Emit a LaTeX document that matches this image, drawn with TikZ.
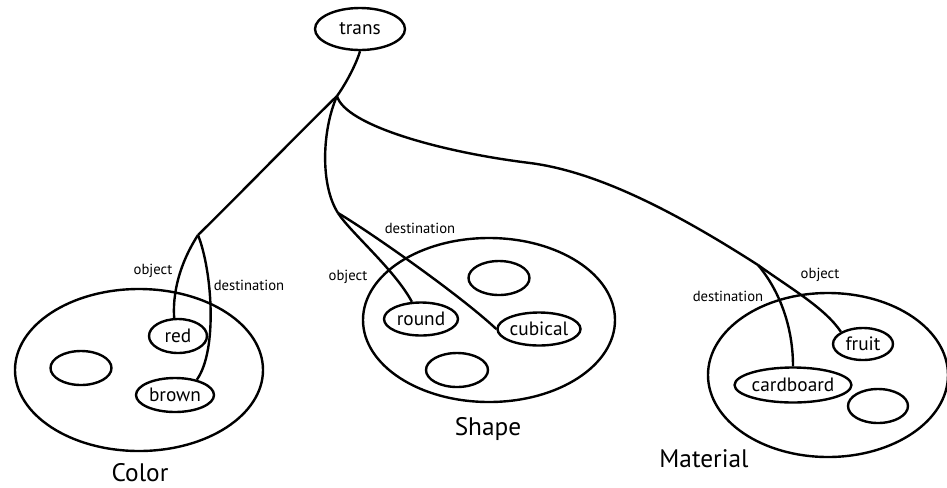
\documentclass[tikz,border=0pt]{standalone}
\usepackage{fontspec}
\setmainfont{PT Sans}
\usetikzlibrary{shapes.geometric}

\begin{document}
\begin{tikzpicture}[x=0.75pt,y=0.75pt,yscale=-1,xscale=1,
  line width=1.8pt,
  field/.style={draw, ellipse, inner sep=0pt},
  item/.style={draw, ellipse, inner sep=0pt, font=\fontsize{14.5}{16}\selectfont},
  rel/.style={inner sep=0pt, font=\fontsize{11}{12}\selectfont},
  title/.style={inner sep=0pt, font=\fontsize{19}{21}\selectfont}]
\useasboundingbox (0,0) rectangle (947,487);
% fields
\node [field, minimum width=186pt, minimum height=121.5pt] (color) at (139,370) {};
\node [field, minimum width=189pt, minimum height=123pt] (shape) at (489,320) {};
\node [field, minimum width=180pt, minimum height=123pt] (material) at (828,375) {};
\node [title] (colorlbl) at (140,473) {Color};
\node [title] (shapelbl) at (488,429) {Shape};
\node [title] (materiallbl) at (704,459) {Material};
% concepts
\node [item, minimum width=67.5pt, minimum height=31.5pt] (trans) at (360,29) {trans};
\node [item, minimum width=43.5pt, minimum height=25.5pt] (red) at (178,336) {red};
\node [item, minimum width=58.5pt, minimum height=25.5pt] (brown) at (175,395) {brown};
\node [item, minimum width=45.75pt, minimum height=25.5pt] (colorx) at (81,368) {};
\node [item, minimum width=55.5pt, minimum height=24.75pt] (round) at (421,319) {round};
\node [item, minimum width=55.5pt, minimum height=24.75pt] (cubical) at (539,329) {cubical};
\node [item, minimum width=45.75pt, minimum height=25.5pt] (shapex) at (499,278) {};
\node [item, minimum width=46.5pt, minimum height=25.5pt] (shapey) at (457,370) {};
\node [item, minimum width=45pt, minimum height=24pt] (fruit) at (863,344) {fruit};
\node [item, minimum width=83.25pt, minimum height=26.25pt] (cardboard) at (793,385) {cardboard};
\node [item, minimum width=45pt, minimum height=25.5pt] (materialx) at (878,406) {};
% forks
\coordinate (fork) at (337,96);
\coordinate (cfork) at (198,235);
\coordinate (sfork) at (338,213);
\coordinate (mbend) at (530,163);
\coordinate (mfork) at (758,265);
% links
\draw (trans.south) .. controls (356,65) and (345,85) .. (fork);
\draw (fork) .. controls (290,142) and (232,202) .. (cfork);
\draw (cfork) .. controls (185,255) and (172,285) .. (red.102);
\draw (cfork) .. controls (212,270) and (218,350) .. (brown.35);
\draw (fork) .. controls (322,130) and (320,185) .. (sfork);
\draw (sfork) .. controls (350,232) and (395,270) .. (round.118);
\draw (sfork) .. controls (370,232) and (460,295) .. (cubical.west);
\draw (fork) .. controls (345,125) and (440,152) .. (mbend);
\draw (mbend) .. controls (600,172) and (680,215) .. (mfork);
\draw (mfork) .. controls (790,288) and (825,308) .. (fruit.north west);
\draw (mfork) .. controls (775,285) and (793,320) .. (cardboard.north);
% roles
\node [rel] (cobj) at (153,271) {object};
\node [rel] (cdest) at (249,285) {destination};
\node [rel] (sobj) at (348,277) {object};
\node [rel] (sdest) at (420,228) {destination};
\node [rel] (mobj) at (820,275) {object};
\node [rel] (mdest) at (728,296) {destination};
\end{tikzpicture}
\end{document}
